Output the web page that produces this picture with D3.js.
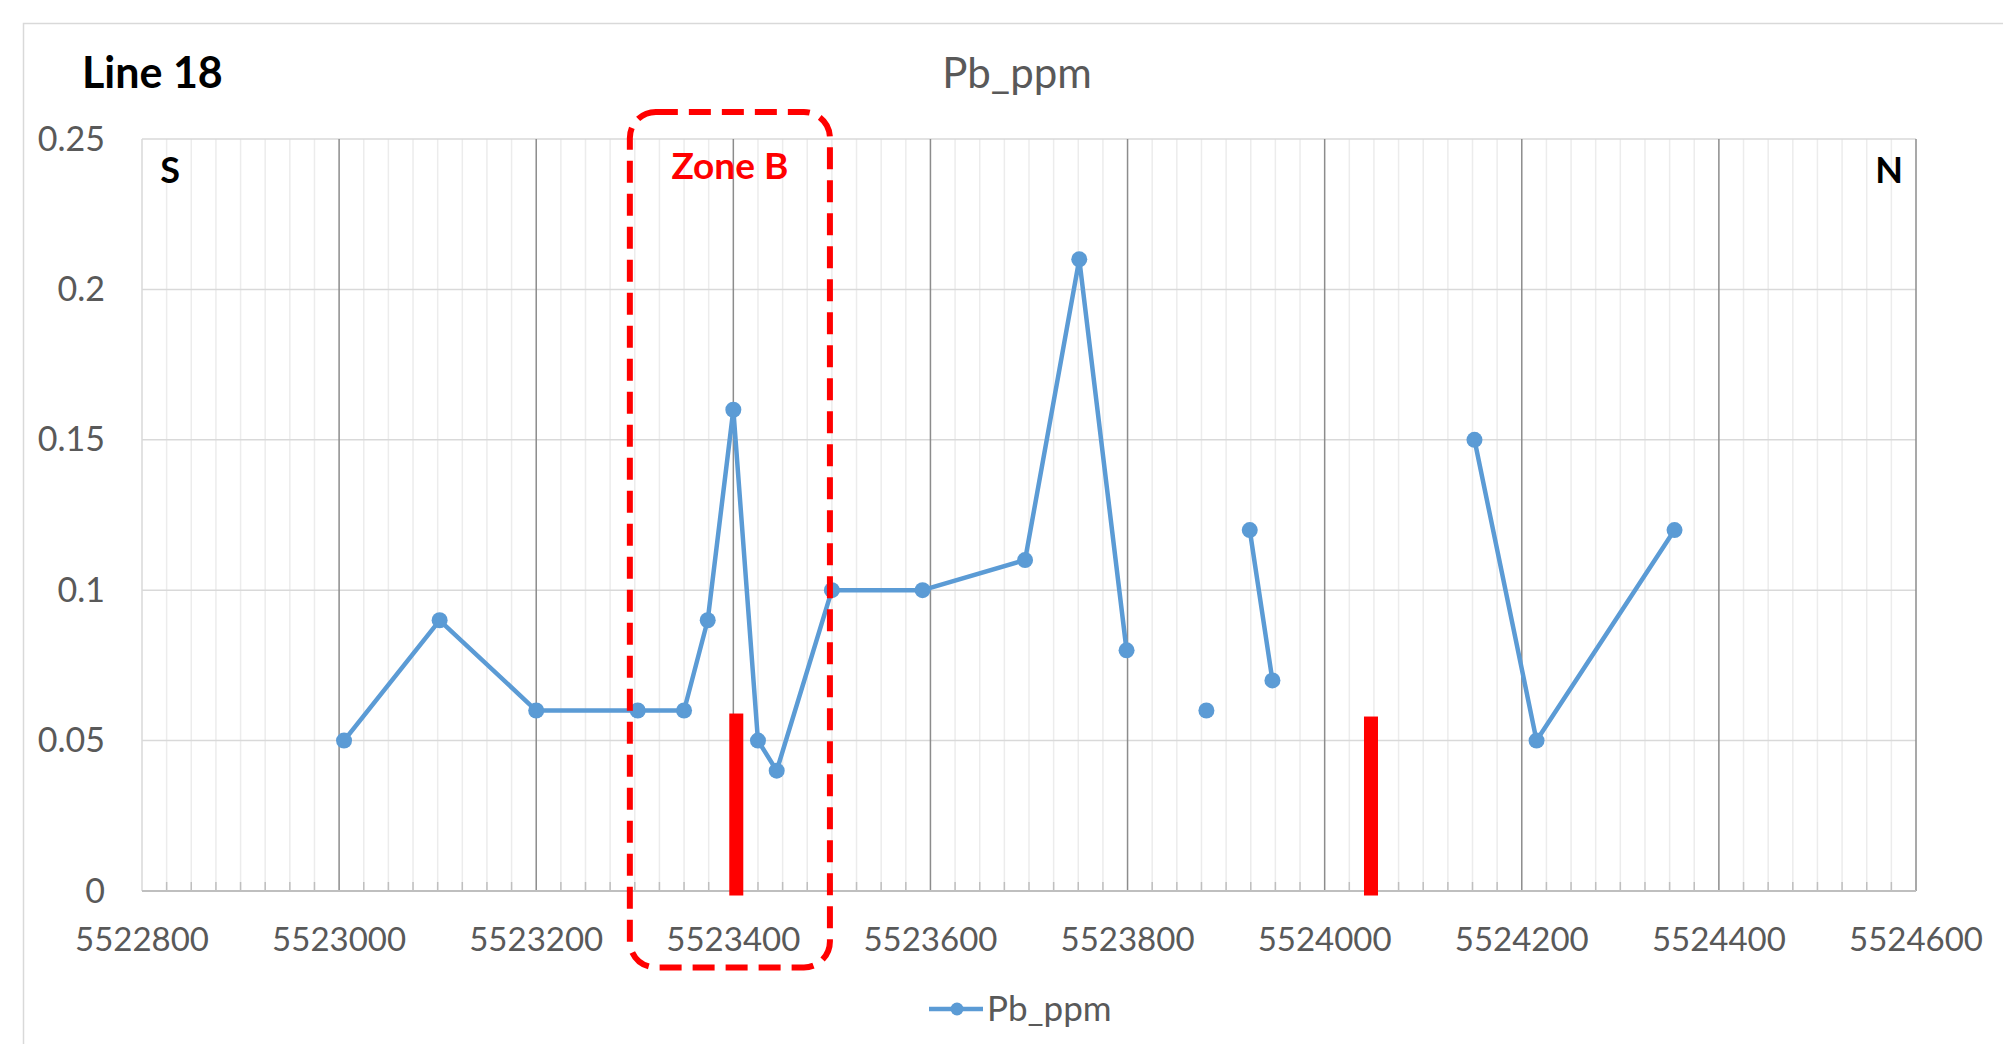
<!DOCTYPE html>
<html>
<head>
<meta charset="utf-8">
<script src="https://cdn.jsdelivr.net/npm/d3@7/dist/d3.min.js"></script>
<style>
html, body { margin: 0; padding: 0; background: #ffffff; }
svg { display: block; }
</style>
</head>
<body>
<script>
// ---- DATA ----
const chartTitle = "Pb_ppm";
const lineLabel = "Line 18";
const seriesName = "Pb_ppm";
// sample northing (null = gap in line)
const northing = [5523005, 5523102, 5523200, 5523303, 5523350, 5523374, 5523400, 5523425, 5523444, 5523500, 5523592, 5523696, 5523751, 5523799, null, 5523880, null, 5523924, 5523947, null, 5524152, 5524215, 5524355];
const pbPpm    = [0.05, 0.09, 0.06, 0.06, 0.06, 0.09, 0.16, 0.05, 0.04, 0.10, 0.10, 0.11, 0.21, 0.08, null, 0.06, null, 0.12, 0.07, null, 0.15, 0.05, 0.12];
// red markers (structures)
const redBarNorthing = [5523403, 5524047];
const redBarTop = [0.059, 0.058];
const redBarBottom = [-0.0015, -0.0015];
// Zone B annotation extent
const zoneLabel = "Zone B";
const zoneNorthing = [5523295, 5523498];
const zoneValue = [-0.0254, 0.259];
// axes
const xTicks = [5522800, 5523000, 5523200, 5523400, 5523600, 5523800, 5524000, 5524200, 5524400, 5524600];
const xMinorStep = 25;
const yTicks = [0, 0.05, 0.1, 0.15, 0.2, 0.25];
const yTickLabels = ["0", "0.05", "0.1", "0.15", "0.2", "0.25"];

// ---- LAYOUT ----
const W = 2003, H = 1044;
const plot = { left: 142, right: 1916, top: 139, bottom: 891 };
const FONT = "Lato, 'Open Sans', sans-serif";
const GRAY_TXT = "#595959";
const BLUE = "#5b9bd5";
const RED = "#ff0000";

const svg = d3.select("body").append("svg").attr("width", W).attr("height", H);

// chart area border (extends beyond view on right/bottom)
svg.append("rect").attr("x", 23.5).attr("y", 23.5).attr("width", 2100).attr("height", 1100)
  .attr("fill", "#fff").attr("stroke", "#d9d9d9").attr("stroke-width", 1.5);

const x = d3.scaleLinear().domain([xTicks[0], xTicks[xTicks.length - 1]]).range([plot.left, plot.right]);
const y = d3.scaleLinear().domain([0, 0.25]).range([plot.bottom, plot.top]);

const g = svg.append("g");

// minor vertical gridlines
const minor = d3.range(xTicks[0], xTicks[xTicks.length - 1] + 1, xMinorStep).filter(v => (v - xTicks[0]) % 200 !== 0);
g.append("g").selectAll("line").data(minor).join("line")
  .attr("x1", d => x(d)).attr("x2", d => x(d)).attr("y1", plot.top).attr("y2", plot.bottom)
  .attr("stroke", "#ececec").attr("stroke-width", 1.5);

// horizontal gridlines
g.append("g").selectAll("line").data(yTicks.slice(1)).join("line")
  .attr("x1", plot.left).attr("x2", plot.right).attr("y1", d => y(d)).attr("y2", d => y(d))
  .attr("stroke", "#d9d9d9").attr("stroke-width", 1.5);

// left edge
g.append("line").attr("x1", plot.left).attr("x2", plot.left).attr("y1", plot.top).attr("y2", plot.bottom)
  .attr("stroke", "#d9d9d9").attr("stroke-width", 1.5);

// major vertical gridlines
g.append("g").selectAll("line").data(xTicks.slice(1)).join("line")
  .attr("x1", d => x(d)).attr("x2", d => x(d)).attr("y1", plot.top).attr("y2", plot.bottom)
  .attr("stroke", "#8c8c8c").attr("stroke-width", 1.5);

// minor tick marks on x axis
g.append("g").selectAll("line").data(minor).join("line")
  .attr("x1", d => x(d)).attr("x2", d => x(d)).attr("y1", plot.bottom - 9).attr("y2", plot.bottom)
  .attr("stroke", "#bfbfbf").attr("stroke-width", 1.5);

// x axis line
g.append("line").attr("x1", plot.left).attr("x2", plot.right).attr("y1", plot.bottom).attr("y2", plot.bottom)
  .attr("stroke", "#bfbfbf").attr("stroke-width", 2);

// x tick labels
g.append("g").selectAll("text").data(xTicks).join("text")
  .attr("x", d => x(d)).attr("y", 943)
  .attr("text-anchor", "middle").attr("dominant-baseline", "middle")
  .attr("font-family", FONT).attr("font-size", 33).attr("fill", GRAY_TXT)
  .text(d => d3.format("d")(d));

// y tick labels
g.append("g").selectAll("text").data(yTicks).join("text")
  .attr("x", 105).attr("y", d => y(d) + 3)
  .attr("text-anchor", "end").attr("dominant-baseline", "middle")
  .attr("font-family", FONT).attr("font-size", 34).attr("fill", GRAY_TXT)
  .text((d, i) => yTickLabels[i]);

// red bars
g.append("g").selectAll("rect").data(redBarNorthing).join("rect")
  .attr("x", d => x(d) - 7).attr("width", 14)
  .attr("y", (d, i) => y(redBarTop[i])).attr("height", (d, i) => y(redBarBottom[i]) - y(redBarTop[i]))
  .attr("fill", RED);

// series line
const pts = northing.map((n, i) => ({ n, v: pbPpm[i] }));
const line = d3.line().defined(d => d.n !== null && d.v !== null).x(d => x(d.n)).y(d => y(d.v));
g.append("path").datum(pts).attr("d", line).attr("fill", "none")
  .attr("stroke", BLUE).attr("stroke-width", 4.5).attr("stroke-linejoin", "round");
g.append("g").selectAll("circle").data(pts.filter(d => d.n !== null)).join("circle")
  .attr("cx", d => x(d.n)).attr("cy", d => y(d.v)).attr("r", 8).attr("fill", BLUE);

// Zone B box
const zx0 = x(zoneNorthing[0]), zx1 = x(zoneNorthing[1]);
const zy0 = y(zoneValue[1]), zy1 = y(zoneValue[0]);
svg.append("rect").attr("x", zx0).attr("y", zy0).attr("width", zx1 - zx0).attr("height", zy1 - zy0)
  .attr("rx", 26).attr("ry", 26).attr("fill", "none").attr("stroke", RED)
  .attr("stroke-width", 6).attr("stroke-dasharray", "22,11");
svg.append("text").attr("x", (zx0 + zx1) / 2).attr("y", 170)
  .attr("text-anchor", "middle").attr("dominant-baseline", "middle")
  .attr("font-family", FONT).attr("font-weight", "bold").attr("font-size", 37).attr("fill", RED)
  .text(zoneLabel);

// S / N labels
svg.append("text").attr("x", 170).attr("y", 174).attr("text-anchor", "middle").attr("dominant-baseline", "middle")
  .attr("font-family", FONT).attr("font-weight", "bold").attr("font-size", 36).attr("fill", "#000").text("S");
svg.append("text").attr("x", 1889).attr("y", 174).attr("text-anchor", "middle").attr("dominant-baseline", "middle")
  .attr("font-family", FONT).attr("font-weight", "bold").attr("font-size", 36).attr("fill", "#000").text("N");

// Title & line label
svg.append("text").attr("x", 1017).attr("y", 77).attr("text-anchor", "middle").attr("dominant-baseline", "middle")
  .attr("font-family", FONT).attr("font-size", 42).attr("fill", GRAY_TXT).text(chartTitle);
svg.append("text").attr("x", 82).attr("y", 77).attr("dominant-baseline", "middle")
  .attr("font-family", FONT).attr("font-weight", "bold").attr("font-size", 43).attr("fill", "#000").text(lineLabel);

// legend
const lg = svg.append("g");
lg.append("line").attr("x1", 929).attr("x2", 983).attr("y1", 1009).attr("y2", 1009)
  .attr("stroke", BLUE).attr("stroke-width", 4.5);
lg.append("circle").attr("cx", 957).attr("cy", 1009).attr("r", 6.5).attr("fill", BLUE);
lg.append("text").attr("x", 987).attr("y", 1012).attr("dominant-baseline", "middle")
  .attr("font-family", FONT).attr("font-size", 35).attr("fill", GRAY_TXT).text(seriesName);
</script>
</body>
</html>
